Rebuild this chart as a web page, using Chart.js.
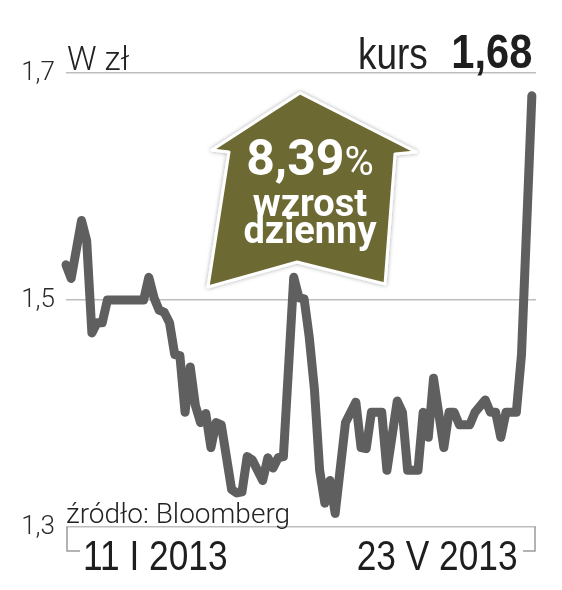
<!DOCTYPE html>
<html lang="pl">
<head>
<meta charset="utf-8">
<title>kurs</title>
<script src="https://cdn.jsdelivr.net/npm/chart.js@4/dist/chart.umd.min.js"></script>
<style>
  html, body { margin: 0; padding: 0; background: #fff; }
  #wrap { position: relative; width: 562px; height: 590px; overflow: hidden; }
  #chart { position: absolute; left: 0; top: 0; }
  .txt { position: absolute; white-space: nowrap; line-height: 1; color: #222; }
  #unit { left: 67px; top: 39px; font: 300 33px Roboto, sans-serif; }
  #kursLbl { left: 358px; top: 29px; font: 400 44px 'Liberation Sans', sans-serif; transform: scaleX(0.84); transform-origin: left top; }
  #kursVal { right: 30px; top: 23px; font: 700 49px 'Liberation Sans', sans-serif; transform: scaleX(0.85); transform-origin: right top; color: #1e1e1e; }
  #source { left: 66px; top: 497px; font: 300 28px Roboto, sans-serif; }
  .xlab { top: 532px; font: 400 42px 'Liberation Sans', sans-serif; color: #1e1e1e; }
  #xl0 { left: 83px; transform: scaleX(0.84); transform-origin: left top; }
  #xl1 { right: 44px; transform: scaleX(0.84); transform-origin: right top; }
  #badge { position: absolute; left: 0; top: 0; }
  .btxt { position: absolute; left: 210px; width: 200px; text-align: center; color: #fff; line-height: 1; white-space: nowrap; font-family: Roboto, sans-serif; }
  #b1 { top: 133px; font-size: 50px; font-weight: 700; }
  #b1 span { font-size: 40px; font-weight: 400; }
  #b2 { top: 184px; font-size: 38px; font-weight: 700; }
  #b3 { top: 211px; font-size: 38px; font-weight: 700; }
</style>
</head>
<body>
<div id="wrap">
  <canvas id="chart" width="562" height="590"></canvas>
  <div class="txt" id="unit">W zł</div>
  <div class="txt" id="kursLbl">kurs</div>
  <div class="txt" id="kursVal">1,68</div>
  <div class="txt" id="source">źródło: Bloomberg</div>
  <svg id="badge" width="562" height="590">
    <defs>
      <filter id="sh" x="-20%" y="-20%" width="140%" height="140%">
        <feDropShadow dx="0" dy="0" stdDeviation="2" flood-color="#000" flood-opacity="0.35"/>
      </filter>
    </defs>
    <polygon points="300,93 416,152 395,154 385,284 297,262 208,287 229,152 212,150"
             fill="#6c6930" stroke="#fff" stroke-width="3" stroke-linejoin="round" filter="url(#sh)"/>
  </svg>
  <div class="btxt" id="b1">8,39<span>%</span></div>
  <div class="btxt" id="b2">wzrost</div>
  <div class="btxt" id="b3">dzienny</div>
</div>

<script>
// dzień sesyjny (0 = 11 I 2013, 90 = 23 V 2013)
const days = [0, 1, 3, 4, 5, 6, 7, 8, 9, 10, 11, 12, 13, 14, 15, 16, 17, 18, 19, 20,
  21, 22, 23, 24, 25, 26, 27, 28, 29, 30, 32, 33, 34, 35, 36, 37, 38, 39, 40, 41,
  42, 44, 45, 46, 47, 48, 49, 50, 51, 52, 54, 56, 57, 58, 59, 61, 62, 64, 65, 66,
  68, 69, 70, 71, 73, 74, 75, 76, 78, 79, 81, 82, 83, 84, 85, 87, 88, 90];

// kurs w zł
const kurs = [1.531, 1.519, 1.570, 1.552, 1.471, 1.480, 1.480, 1.500, 1.500, 1.500,
  1.500, 1.500, 1.500, 1.500, 1.500, 1.520, 1.502, 1.491, 1.489, 1.480,
  1.452, 1.451, 1.401, 1.441, 1.407, 1.392, 1.400, 1.370, 1.392, 1.390,
  1.333, 1.330, 1.331, 1.362, 1.359, 1.350, 1.341, 1.361, 1.352, 1.361,
  1.362, 1.520, 1.502, 1.501, 1.467, 1.421, 1.350, 1.321, 1.341, 1.312,
  1.392, 1.410, 1.370, 1.369, 1.401, 1.401, 1.350, 1.411, 1.401, 1.350,
  1.350, 1.401, 1.379, 1.431, 1.370, 1.401, 1.401, 1.390, 1.390, 1.401,
  1.412, 1.401, 1.401, 1.379, 1.401, 1.401, 1.452, 1.680];

const yTicks = [1.3, 1.5, 1.7];
const xLabels = ['11 I 2013', '23 V 2013'];

// podpisy dat pod klamrą
const wrap = document.getElementById('wrap');
xLabels.forEach((t, i) => {
    const el = document.createElement('div');
    el.className = 'txt xlab';
    el.id = 'xl' + i;
    el.textContent = t;
    wrap.appendChild(el);
});

// klamra pod osią
const bracketPlugin = {
    id: 'bracket',
    afterDraw(chart) {
        const { ctx, chartArea } = chart;
        const b = chartArea.bottom;
        ctx.save();
        ctx.strokeStyle = '#9a9a9a';
        ctx.lineWidth = 1.5;
        ctx.beginPath();
        ctx.moveTo(chartArea.left + 14, b + 24);
        ctx.lineTo(chartArea.left + 1, b + 24);
        ctx.lineTo(chartArea.left + 1, b);
        ctx.moveTo(chartArea.right - 13, b + 24);
        ctx.lineTo(chartArea.right - 1, b + 24);
        ctx.lineTo(chartArea.right - 1, b);
        ctx.stroke();
        ctx.restore();
    }
};

const ctx = document.getElementById('chart').getContext('2d');
new Chart(ctx, {
    type: 'line',
    data: {
        datasets: [{
            data: days.map((d, i) => ({ x: d, y: kurs[i] })),
            borderColor: '#5f5f5f',
            borderWidth: 9,
            borderJoinStyle: 'round',
            borderCapStyle: 'round',
            pointRadius: 0,
            tension: 0,
            clip: 12
        }]
    },
    options: {
        responsive: false,
        animation: false,
        layout: { padding: { top: 73, right: 26, left: 0, bottom: 0 } },
        plugins: { legend: { display: false }, tooltip: { enabled: false } },
        scales: {
            x: {
                type: 'linear',
                min: 0,
                max: 90.8,
                afterFit: s => { s.height = 63; },
                grid: { display: false, drawTicks: false },
                border: { display: false },
                ticks: { display: false }
            },
            y: {
                min: 1.3,
                max: 1.7,
                afterFit: s => { s.width = 66; },
                afterBuildTicks: s => { s.ticks = yTicks.map(v => ({ value: v })); },
                grid: { color: '#bdbdbd', lineWidth: 1.5, drawTicks: false },
                border: { display: false },
                ticks: {
                    padding: 11,
                    color: '#2a2a2a',
                    font: { family: 'Roboto, sans-serif', size: 26, weight: '300' },
                    callback: v => v.toFixed(1).replace('.', ',')
                }
            }
        }
    },
    plugins: [bracketPlugin]
});
</script>
</body>
</html>
